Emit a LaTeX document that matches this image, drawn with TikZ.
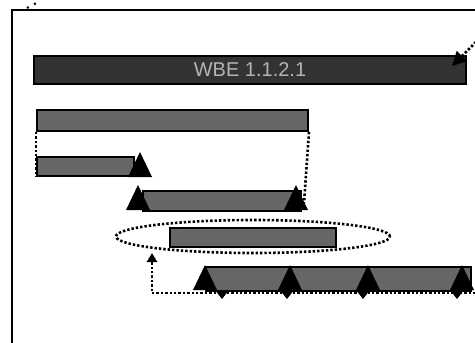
\documentclass[tikz,border=0pt]{standalone}
\usepackage{fontspec}
\setmainfont{Liberation Sans}
\usetikzlibrary{shapes.geometric,arrows.meta}
\definecolor{barhead}{HTML}{333333}
\definecolor{barbody}{HTML}{666666}
\definecolor{labelgrey}{HTML}{B4B4B4}
\tikzset{
  bar/.style={draw=black, line width=2pt, fill=barbody, inner sep=0pt, anchor=north west},
  headbar/.style={bar, fill=barhead},
  linkline/.style={line width=2.6pt, dash pattern=on 2.4pt off 2pt},
  milestone/.pic={\fill[black] (-12,12) -- (0,-13) -- (12,12) -- cycle;},
  dropmark/.pic={\fill[black] (-5.5,-3) -- (5.5,-3) -- (0,4) -- cycle;},
}
\begin{document}
\begin{tikzpicture}[x=1pt,y=-1pt]
\useasboundingbox (0,0) rectangle (475,343);
\clip (0,0) rectangle (475,343);
\fill[white] (0,0) rectangle (475,343);

% outer frame
\draw[line width=2pt] (12,350) -- (12,10) -- (480,10);
\draw[line width=2pt, dash pattern=on 2pt off 6pt] (27,8) -- (40,1);

% task bars
\node[headbar, minimum width=432pt, minimum height=28pt] (wbe) at (33,55) {};
\node[text=labelgrey, font=\fontsize{20}{20}\selectfont] at (wbe.center) {WBE 1.1.2.1};
\node[bar, minimum width=271pt, minimum height=21pt] (b2) at (36,109) {};
\node[bar, minimum width=97pt, minimum height=19pt] (b3) at (36,156) {};
\node[bar, minimum width=158pt, minimum height=20pt] (b4) at (142,190) {};
\node[bar, minimum width=166pt, minimum height=19pt] (b5) at (169,227) {};
\node[bar, minimum width=265pt, minimum height=24pt] (b6) at (205,266) {};

% grouping ellipse
\node[draw, ellipse, linkline, minimum width=274pt, minimum height=33pt, inner sep=0pt] (grp) at (253,236.5) {};

% milestones
\pic at (140,165) {milestone};
\pic at (138,198) {milestone};
\pic at (296,198) {milestone};
\pic at (205,278) {milestone};
\pic at (290,278) {milestone};
\pic at (368,278) {milestone};
\pic at (462,278) {milestone};
\pic at (222,295) {dropmark};
\pic at (287,295) {dropmark};
\pic at (363,295) {dropmark};
\pic at (457,295) {dropmark};

% dependency links
\coordinate (loopin) at (152,253);
\coordinate (loopout) at (480,293);
\coordinate (b4end) at (304,203);
\coordinate (topin) at (476,42);
\coordinate (toptip) at (452,66);
\draw[linkline] (b2.south west) -- (b3.south west);
\draw[linkline] (b2.south east) -- (b4end);
\draw[linkline, -{Triangle[width=10pt,length=9pt]}] (loopout) -| (loopin);
\draw[linkline, -{Triangle[width=14pt,length=14pt]}] (topin) -- (toptip);
\end{tikzpicture}
\end{document}
